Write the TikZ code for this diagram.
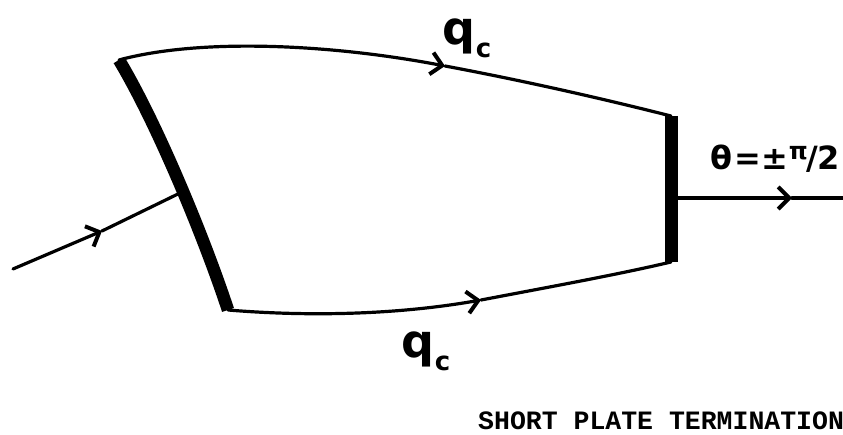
\documentclass[tikz,border=0pt]{standalone}
\usepackage{fontspec}
\setmainfont{DejaVu Sans}
\newfontfamily\capfont{Liberation Mono}
\usetikzlibrary{arrows.meta}
\tikzset{
  plate/.style={line width=12.5pt,line cap=butt},
  flow/.style={line width=3.2pt,line cap=round},
  flowhead/.style={flow,-{Straight Barb[length=11pt,width=22pt,line width=4pt]}},
  hand/.style={inner sep=0pt,font=\bfseries},
  caption/.style={inner sep=0pt,anchor=base west,font=\capfont\bfseries\fontsize{26.5}{26.5}\selectfont}
}
\newcommand{\qlabel}{{\fontsize{46}{46}\selectfont q\raisebox{-13pt}{\fontsize{26}{26}\selectfont c}}}
\begin{document}
\begin{tikzpicture}[x=1pt,y=-1pt]
\useasboundingbox (0,0) rectangle (843,435);
\coordinate (lt) at (119,60);
\coordinate (lm) at (180,193);
\coordinate (lb) at (228,310);
\coordinate (rt) at (671,116);
\coordinate (rm) at (671,198);
\coordinate (rb) at (671,262);
\coordinate (inS) at (13,269);
\coordinate (inA) at (102,231);
\coordinate (outA) at (792,198);
\coordinate (outE) at (843,198);
\coordinate (topA) at (445,66);
\coordinate (botA) at (481,300);
% upper edge
\draw[flowhead] (lt) .. controls (200,38) and (330,44) .. (topA);
\draw[flow] (topA) .. controls (520,80) and (600,98) .. (rt);
% lower edge
\draw[flowhead] (lb) .. controls (300,316) and (390,316) .. (botA);
\draw[flow] (botA) .. controls (560,285) and (620,274) .. (rb);
% input and output
\draw[flowhead] (inS) -- (inA);
\draw[flow] (inA) -- (lm);
\draw[flowhead] (rm) -- (outA);
\draw[flow] (outA) -- (outE);
% plates
\draw[plate] (lt) .. controls (158,125) and (205,240) .. (lb);
\draw[plate,line width=13pt] (rt) -- (rb);
% labels
\node[hand] (q1) at (467,38) {\qlabel};
\node[hand] (q2) at (426,351) {\qlabel};
\node[hand,anchor=base west] (th) at (710,170) {\fontsize{32}{32}\selectfont θ\kern2pt{=}\kern1pt{±}\raisebox{10pt}{\fontsize{24}{24}\selectfont π}\kern-1pt/\kern-1pt 2};
\node[caption] (cap) at (478,429) {SHORT PLATE TERMINATION};
\end{tikzpicture}
\end{document}
